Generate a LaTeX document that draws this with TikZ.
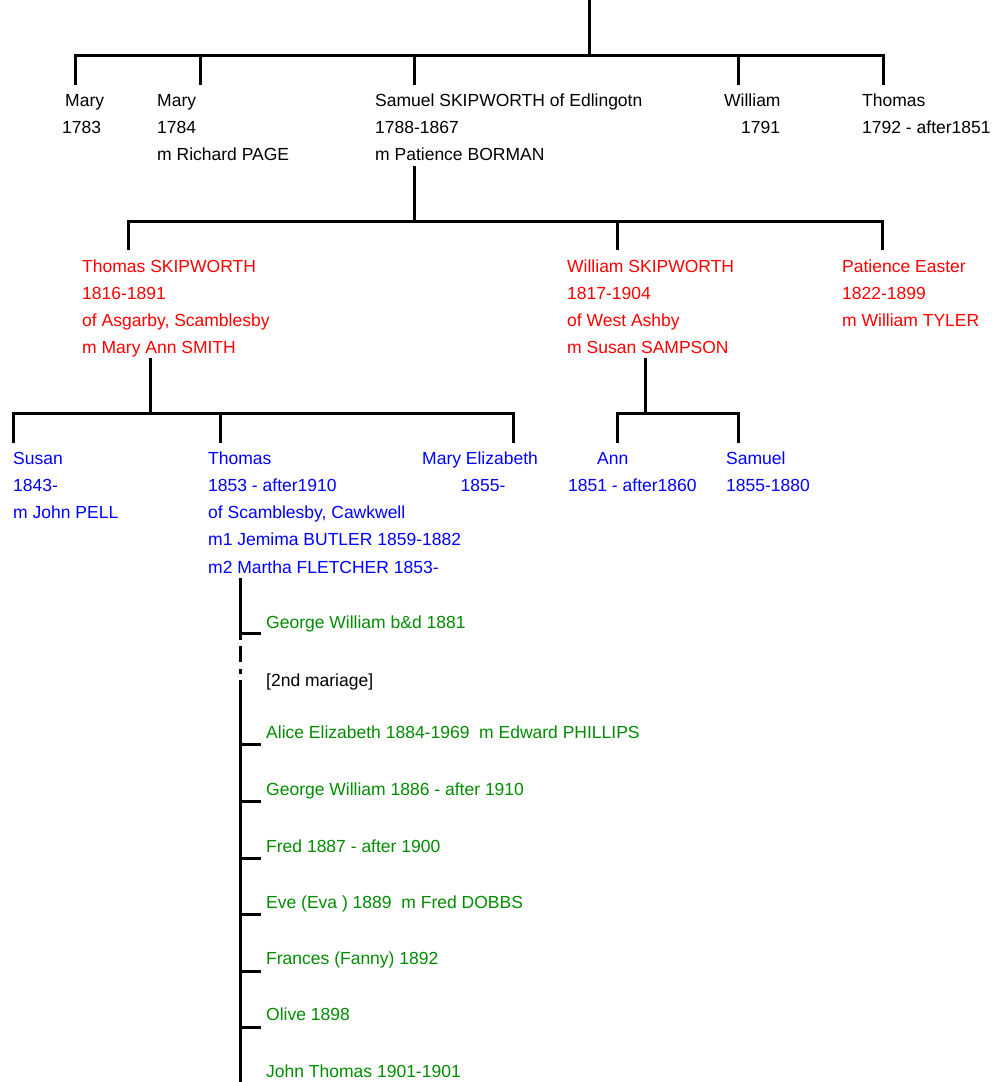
\documentclass[tikz,border=0pt]{standalone}
\usepackage{fontspec}
\setmainfont{Liberation Sans}
\definecolor{kidgreen}{RGB}{0,140,0}
\definecolor{gred}{RGB}{255,0,0}
\definecolor{gblue}{RGB}{0,0,255}
\newcommand{\plines}[1]{\begin{tabular}[t]{@{}l@{}}#1\end{tabular}}
\newcommand{\clines}[1]{\begin{tabular}[t]{@{}c@{}}#1\end{tabular}}
\tikzset{
  conn/.style={line width=3pt, line cap=butt, line join=miter},
  person/.style={anchor=base west, inner sep=0pt, font=\fontsize{17.5}{27.3}\selectfont},
  genone/.style={person, text=black},
  gentwo/.style={person, text=gred},
  genthree/.style={person, text=gblue},
  kid/.style={person, text=kidgreen},
  note/.style={person, text=black}
}
\begin{document}
\begin{tikzpicture}[x=1pt,y=-1pt]
\useasboundingbox (0,0) rectangle (992,1082);

% generation 1
\node[genone] (mary1) at (62,106) {\plines{\hspace{3pt}Mary\\1783}};
\node[genone] (mary2) at (157,106) {\plines{Mary\\1784\\m Richard PAGE}};
\node[genone] (samuel) at (375,106) {\plines{Samuel SKIPWORTH of Edlingotn\\1788-1867\\m Patience BORMAN}};
\node[genone] (william1) at (724,106) {\plines{William\\\hspace{17pt}1791}};
\node[genone] (thomas1) at (862,106) {\plines{Thomas\\1792 - after1851}};

% generation 2
\node[gentwo] (thomas2) at (82,272) {\plines{Thomas SKIPWORTH\\1816-1891\\of Asgarby, Scamblesby\\m Mary Ann SMITH}};
\node[gentwo] (william2) at (567,272) {\plines{William SKIPWORTH\\1817-1904\\of West Ashby\\m Susan SAMPSON}};
\node[gentwo] (patience) at (842,272) {\plines{Patience Easter\\1822-1899\\m William TYLER}};

% generation 3
\node[genthree] (susan) at (13,464) {\plines{Susan\\1843-\\m John PELL}};
\node[genthree] (thomas3) at (208,464) {\plines{Thomas\\1853 - after1910\\of Scamblesby, Cawkwell\\m1 Jemima BUTLER 1859-1882\\m2 Martha FLETCHER 1853-}};
\node[genthree] (maryeliz) at (422,464) {\clines{Mary Elizabeth\\\hspace{6pt}1855-}};
\node[genthree] (ann) at (568,464) {\plines{\hspace{29pt}Ann\\1851 - after1860}};
\node[genthree] (samuel3) at (726,464) {\plines{Samuel\\1855-1880}};

% generation 4
\node[kid] (k1) at (266,628) {George William b\&d 1881};
\node[note] (mar2) at (266,686) {[2nd mariage]};
\node[kid] (k2) at (266,738) {Alice Elizabeth 1884-1969\ \ m Edward PHILLIPS};
\node[kid] (k3) at (266,795) {George William 1886 - after 1910};
\node[kid] (k4) at (266,852) {Fred 1887 - after 1900};
\node[kid] (k5) at (266,908) {Eve (Eva ) 1889\ \ m Fred DOBBS};
\node[kid] (k6) at (266,964) {Frances (Fanny) 1892};
\node[kid] (k7) at (266,1020) {Olive 1898};
\node[kid] (k8) at (266,1077) {John Thomas 1901-1901};

% connectors generation 1
\coordinate (root) at (589,0);
\coordinate (bar1) at (589,55);
\coordinate (d11) at (75,85);
\coordinate (d12) at (200,85);
\coordinate (d13) at (414,85);
\coordinate (d14) at (738,85);
\coordinate (d15) at (883,85);
\draw[conn] (root) -- (bar1);
\draw[conn] (d11) |- (d15 |- bar1) -- (d15);
\draw[conn] (d12 |- bar1) -- (d12);
\draw[conn] (d13 |- bar1) -- (d13);
\draw[conn] (d14 |- bar1) -- (d14);

% connectors generation 2
\coordinate (s2) at (414,166);
\coordinate (bar2) at (414,221);
\coordinate (d21) at (128,250);
\coordinate (d22) at (617,250);
\coordinate (d23) at (882,250);
\draw[conn] (s2) -- (bar2);
\draw[conn] (d21) |- (d23 |- bar2) -- (d23);
\draw[conn] (d22 |- bar2) -- (d22);

% connectors generation 3 (Thomas)
\coordinate (s3a) at (150,358);
\coordinate (bar3a) at (150,413);
\coordinate (d31) at (13,443);
\coordinate (d32) at (220,443);
\coordinate (d33) at (513,443);
\draw[conn] (s3a) -- (bar3a);
\draw[conn] (d31) |- (d33 |- bar3a) -- (d33);
\draw[conn] (d32 |- bar3a) -- (d32);

% connectors generation 3 (William)
\coordinate (s3b) at (645,358);
\coordinate (bar3b) at (645,413);
\coordinate (d34) at (617,443);
\coordinate (d35) at (738,443);
\draw[conn] (s3b) -- (bar3b);
\draw[conn] (d34) |- (d35 |- bar3b) -- (d35);

% connectors generation 4
\coordinate (v0) at (240,578);
\draw[conn] (v0) -- (240,640);
\draw[conn] (240,646) -- (240,662);
\draw[conn] (240,669) -- (240,674);
\draw[conn] (240,680) -- (240,1082);
\foreach \k/\y in {k1/633,k2/744,k3/801,k4/858,k5/914,k6/971,k7/1027,k8/1083}{
  \draw[conn] (240,\y) -- ([xshift=-5pt]\k.west |- 0,\y);
}
\end{tikzpicture}
\end{document}
